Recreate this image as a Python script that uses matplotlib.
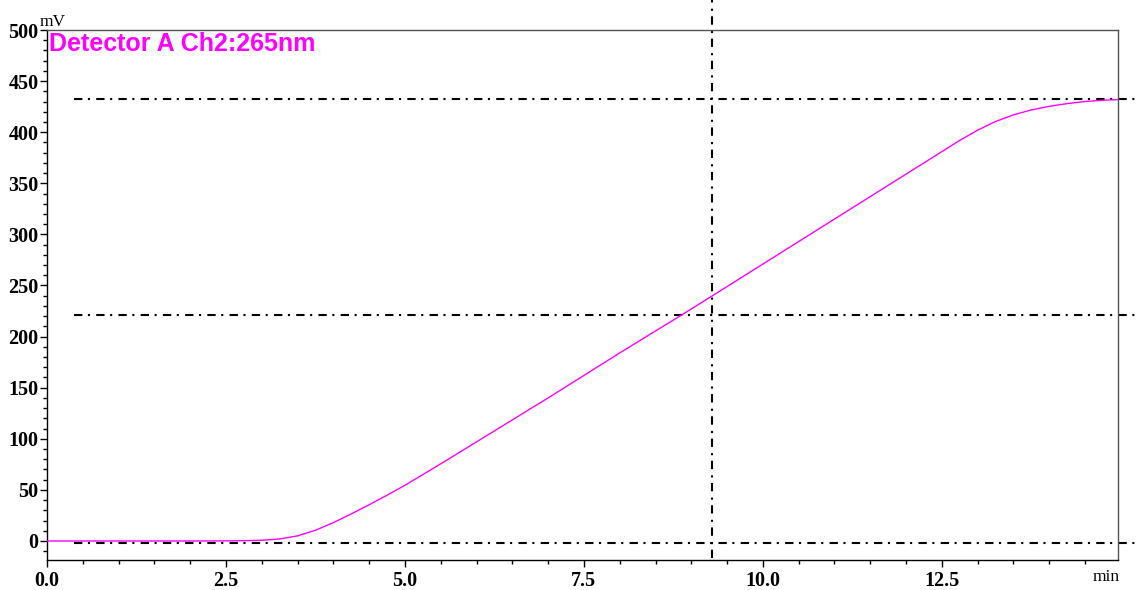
import matplotlib
matplotlib.use("Agg")
import matplotlib.pyplot as plt
from matplotlib.ticker import MultipleLocator, FixedLocator

# Chromatogram trace (min, mV)
time_min = [0.0, 1.0, 2.0, 2.5, 2.75, 3.0, 3.25, 3.5, 3.75, 4.0, 4.25, 4.5,
            4.75, 5.0, 5.5, 6.0, 6.5, 7.0, 7.5, 8.0, 8.5, 9.0, 9.5, 10.0,
            10.5, 11.0, 11.5, 12.0, 12.25, 12.5, 12.75, 13.0, 13.25, 13.5,
            13.75, 14.0, 14.25, 14.5, 14.75, 15.0]
signal_mv = [0.0, 0.0, 0.0, 0.1, 0.3, 0.7, 2.0, 5.0, 10.5, 18.0, 26.5, 35.5,
             44.8, 54.5, 75.5, 97.0, 118.5, 140.0, 162.0, 184.0, 205.5, 227.0,
             249.0, 271.0, 293.0, 315.0, 337.0, 359.0, 370.0, 381.0, 392.0,
             402.0, 410.5, 417.0, 421.8, 425.3, 428.0, 430.0, 431.3, 432.0]

# Cursor positions
cursor_levels_mv = [432.5, 221.0, -2.0]
cursor_time_min = 9.29

x_ticks = [0.0, 2.5, 5.0, 7.5, 10.0, 12.5]
x_tick_labels = ["0.0", "2.5", "5.0", "7.5", "10.0", "12.5"]
y_ticks = [0, 50, 100, 150, 200, 250, 300, 350, 400, 450, 500]

plt.rcParams["lines.scale_dashes"] = False

fig = plt.figure(figsize=(11.36, 5.90), dpi=100)
ax = fig.add_axes([47 / 1136, 30 / 590, (1118 - 47) / 1136, (560 - 30) / 590])

ax.set_xlim(0.0, 14.96)
ax.set_ylim(-18.6, 500)

ax.plot(time_min, signal_mv, color="#ff00ff", lw=1.0, zorder=3,
        solid_joinstyle="round")

dash = (0, (6.0, 4.0, 1.5, 4.5))
for lvl in cursor_levels_mv:
    ax.plot([0.38, 15.25], [lvl, lvl], color="black", lw=1.5,
            linestyle=dash, clip_on=False, zorder=2)
ax.plot([cursor_time_min, cursor_time_min], [-17.0, 532.0], color="black",
        lw=1.5, linestyle=dash, clip_on=False, zorder=2)

serif = "Liberation Serif"
ax.xaxis.set_major_locator(FixedLocator(x_ticks))
ax.set_xticklabels(x_tick_labels)
ax.xaxis.set_minor_locator(MultipleLocator(0.5))
ax.yaxis.set_major_locator(FixedLocator(y_ticks))
ax.yaxis.set_minor_locator(MultipleLocator(10))

for lab in ax.get_xticklabels() + ax.get_yticklabels():
    lab.set_fontfamily(serif)
    lab.set_fontweight("bold")
    lab.set_fontsize(14.5)

ax.tick_params(axis="both", which="major", direction="out", length=5,
               width=1, color="black", pad=3)
ax.tick_params(axis="both", which="minor", direction="out", length=3,
               width=1, color="black")
ax.tick_params(axis="y", which="major", pad=1)

for side in ("left", "bottom"):
    ax.spines[side].set_color("black")
    ax.spines[side].set_linewidth(1.0)
for side in ("top", "right"):
    ax.spines[side].set_color("#555555")
    ax.spines[side].set_linewidth(1.0)

ax.text(-0.1, 500, "mV", transform=ax.transData, fontfamily=serif,
        fontsize=12.5, ha="left", va="bottom", clip_on=False)
ax.text(14.98, -27, "min", fontfamily=serif, fontsize=12.5, ha="right",
        va="top", clip_on=False)

ax.text(0.03, 498, "Detector A Ch2:265nm", color="#ff00ff",
        fontfamily="Liberation Sans", fontweight="bold", fontsize=18,
        ha="left", va="top")

fig.savefig("out.png", dpi=100)
